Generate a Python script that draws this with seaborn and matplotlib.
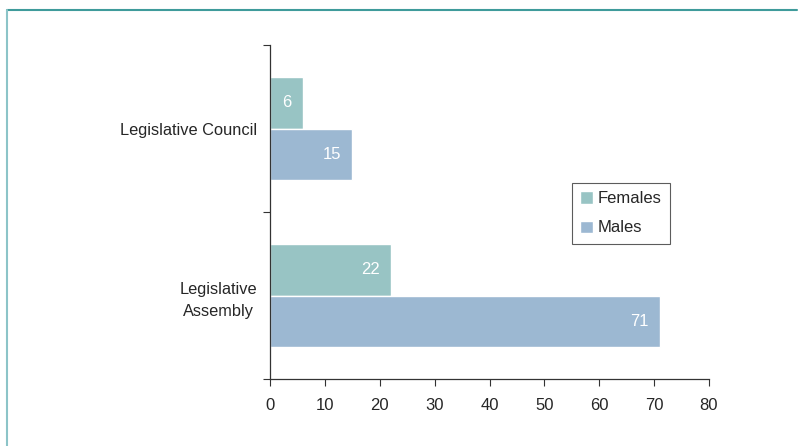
import pandas as pd
import seaborn as sns
import matplotlib.pyplot as plt
from matplotlib.lines import Line2D

# Data
chambers = ['Legislative Council', 'Legislative\nAssembly']
females = [6, 22]
males = [15, 71]
series = ['Females', 'Males']
colors = ['#98c4c4', '#9cb8d2']
x_ticks = [0, 10, 20, 30, 40, 50, 60, 70, 80]

sns.set_style('white')
plt.rcParams['font.family'] = ['Liberation Sans', 'DejaVu Sans']

df = pd.DataFrame({
    'chamber': chambers * 2,
    'gender': ['Females'] * len(chambers) + ['Males'] * len(chambers),
    'count': females + males,
})

fig = plt.figure(figsize=(7.98, 4.46), dpi=100)
ax = fig.add_axes([270 / 798, 67 / 446, 439 / 798, 334 / 446])

sns.barplot(data=df, y='chamber', x='count', hue='gender', order=chambers,
            hue_order=series, palette=colors, orient='h', width=0.62,
            edgecolor='white', linewidth=1, saturation=1, ax=ax)

# value labels inside bar ends
for container in ax.containers:
    for patch in container:
        w = patch.get_width()
        ax.annotate('{:g}'.format(w),
                    (w, patch.get_y() + patch.get_height() / 2),
                    xytext=(-8, 0), textcoords='offset points',
                    ha='right', va='center', color='white', fontsize=12)

ax.set_xlim(0, 80)
ax.set_ylim(1.5, -0.5)
ax.set_xticks(x_ticks)
ax.set_xticklabels([str(t) for t in x_ticks], fontsize=12)
ax.set_yticks([-0.5, 0.5, 1.5])
ax.set_yticklabels([])
ax.set_yticks([0, 1], minor=True)
ax.set_yticklabels(chambers, minor=True, fontsize=11.8,
                   multialignment='center', linespacing=1.55)
ax.tick_params(axis='y', which='minor', length=0, pad=9)
ax.tick_params(axis='y', which='major', direction='out', length=5, width=0.8,
               color='#333333', left=True)
ax.tick_params(axis='x', direction='out', length=5, width=0.8,
               color='#333333', bottom=True, pad=9)
ax.set_xlabel('')
ax.set_ylabel('')

for side in ['top', 'right']:
    ax.spines[side].set_visible(False)
for side in ['left', 'bottom']:
    ax.spines[side].set_color('#333333')
    ax.spines[side].set_linewidth(0.9)

leg = ax.legend(loc='upper left', bbox_to_anchor=(0.688, 0.587), fontsize=12,
                frameon=True, fancybox=False, edgecolor='#333333',
                handlelength=0.75, handleheight=0.75, handletextpad=0.3,
                labelspacing=0.85, borderpad=0.5, borderaxespad=0, title=None)
leg.get_frame().set_linewidth(0.8)

# teal frame around the figure
fig.add_artist(Line2D([7 / 798, 797 / 798], [1 - 10 / 446, 1 - 10 / 446],
                      color='#3f9b9b', linewidth=1.5, transform=fig.transFigure))
fig.add_artist(Line2D([7 / 798, 7 / 798], [0, 1 - 10 / 446],
                      color='#8cc4c8', linewidth=1.5, transform=fig.transFigure))

plt.savefig('out.png', dpi=100)
